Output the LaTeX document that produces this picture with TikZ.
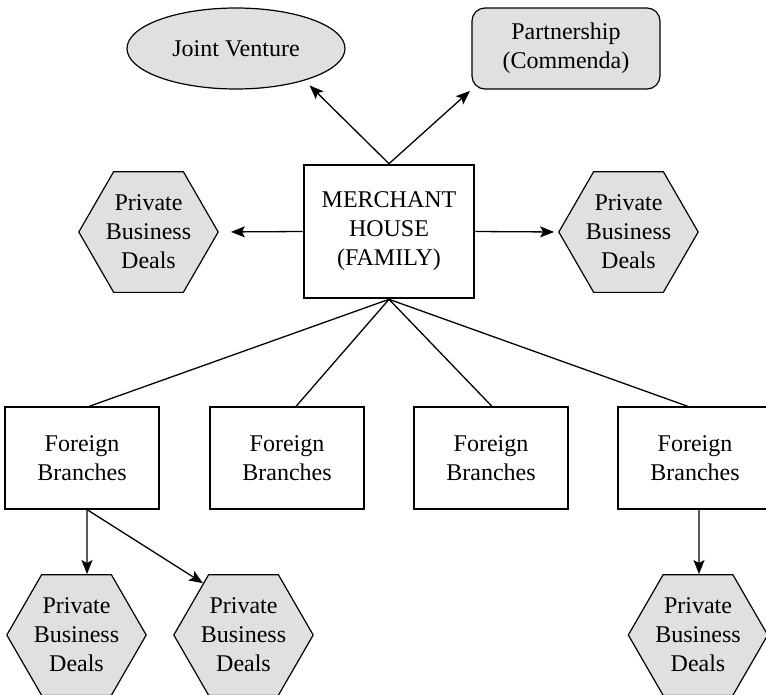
\documentclass[tikz,border=0pt]{standalone}
\usepackage{fontspec}
\setmainfont{Liberation Serif}
\usetikzlibrary{arrows.meta}
\usetikzlibrary{shapes.geometric,positioning}
\definecolor{dealgray}{RGB}{224,224,224}

\begin{document}
\begin{tikzpicture}[x=1pt, y=-1pt, >={Stealth[length=14pt,width=11pt,inset=3pt]},
	every node/.style={font=\fontsize{24}{29}\selectfont, align=center},
	deal/.style={draw, line width=1.2pt, fill=dealgray, regular polygon, regular polygon sides=6, minimum size=139pt, inner sep=0pt},
	branch/.style={draw, line width=1.2pt, minimum width=154pt, minimum height=102pt, inner sep=0pt},
	link/.style={line width=1.3pt}]
	\useasboundingbox (0,0) rectangle (766,694);
	\path
	(389,231.5) coordinate (house)
	(236,48.5) coordinate (venture)
	(566,48.5) coordinate (partner)
	(148.5,232) coordinate (left)
	(628.5,232) coordinate (right)
	(82,458) coordinate (b1)
	(287,458) coordinate (b2)
	(491,458) coordinate (b3)
	(695,458) coordinate (b4)
	(76.5,635) coordinate (low1)
	(243.5,635) coordinate (low2)
	(698,635) coordinate (low3)
	;
	
	\node[draw, line width=2.6pt, minimum width=170pt, minimum height=133pt] (mh) at (house) {MERCHANT\\HOUSE\\(FAMILY)};
	\node[draw, line width=1.2pt, fill=dealgray, ellipse, minimum width=218pt, minimum height=81pt, inner sep=0pt] (jv) at (venture) {Joint Venture};
	\node[draw, line width=1.2pt, fill=dealgray, rounded corners=13pt, minimum width=188pt, minimum height=81pt, inner sep=0pt] (pt) at (partner) {Partnership\\(Commenda)};
	\node[deal] (dL) at (left) {Private\\Business\\Deals};
	\node[deal] (dR) at (right) {Private\\Business\\Deals};
	\node[branch] (fb1) at (b1) {Foreign\\Branches};
	\node[branch] (fb2) at (b2) {Foreign\\Branches};
	\node[branch] (fb3) at (b3) {Foreign\\Branches};
	\node[branch] (fb4) at (b4) {Foreign\\Branches};
	\node[deal] (dA) at (low1) {Private\\Business\\Deals};
	\node[deal] (dB) at (low2) {Private\\Business\\Deals};
	\node[deal] (dC) at (low3) {Private\\Business\\Deals};
	
	% house to partners and private deals
	\draw[link,->,shorten >=7pt] (mh.north) -- (jv.-25);
	\draw[link,->,shorten >=2pt] (mh.north) -- (pt.south west);
	\draw[link,->,shorten >=12pt] (mh.west) -- (dL.east);
	\draw[link,->,shorten >=4pt] (mh.east) -- (dR.west);
	
	% house to branches
	\draw[link] (mh.south) -- ([xshift=7pt]fb1.north);
	\draw[link] (mh.south) -- ([xshift=9pt]fb2.north);
	\draw[link] (mh.south) -- ([xshift=1pt]fb3.north);
	\draw[link] (mh.south) -- ([xshift=-7pt]fb4.north);
	
	% branches to private deals
	\draw[link,->] ([xshift=5pt]fb1.south) -- ([xshift=10.5pt]dA.north);
	\draw[link,->] ([xshift=5pt]fb1.south) -- (dB.128);
	\draw[link,->] ([xshift=4pt]fb4.south) -- ([xshift=1pt]dC.north);
\end{tikzpicture}
\end{document}
